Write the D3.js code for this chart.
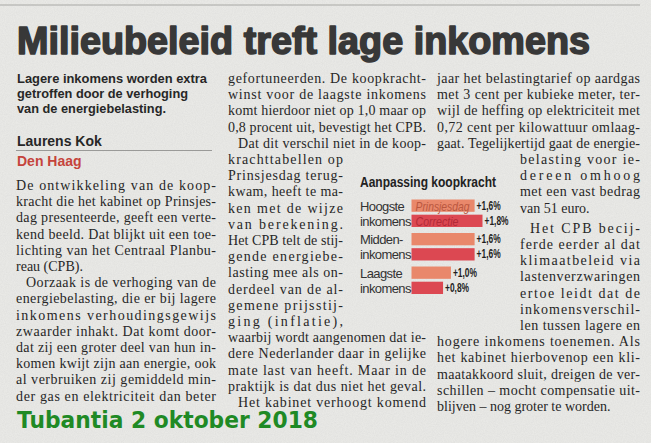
<!DOCTYPE html>
<html>
<head>
<meta charset="utf-8">
<script src="https://cdn.jsdelivr.net/npm/d3@7"></script>
<style>
  html, body { margin: 0; padding: 0; background: #e8e8e5; overflow: hidden; }
</style>
</head>
<body>
<script>
// chart data
var categories = ["Hoogste", "Midden", "Laagste"];
var categoryLines = [["Hoogste", "inkomens"], ["Midden-", "inkomens"], ["Laagste", "inkomens"]];
var seriesNames = ["Prinsjesdag", "Correctie"];
var prinsjesdag = [1.6, 1.6, 1.0];
var correctie = [1.8, 1.6, 0.8];

// article text
var headline = "Milieubeleid treft lage inkomens";
var intro = ["Lagere inkomens worden extra", "getroffen door de verhoging", "van de energiebelasting."];
var introWidths = [190, 171, 149];
var col1 = [
  ["De ontwikkeling van de koop-", 1], ["kracht die het kabinet op Prinsjes-", 1],
  ["dag presenteerde, geeft een verte-", 1], ["kend beeld. Dat blijkt uit een toe-", 1],
  ["lichting van het Centraal Planbu-", 1], ["reau (CPB).", 0],
  ["Oorzaak is de verhoging van de", 1, "i"], ["energiebelasting, die er bij lagere", 1],
  ["inkomens verhoudingsgewijs", 1], ["zwaarder inhakt. Dat komt door-", 1],
  ["dat zij een groter deel van hun in-", 1], ["komen kwijt zijn aan energie, ook", 1],
  ["al verbruiken zij gemiddeld min-", 1], ["der gas en elektriciteit dan beter", 1]
];
var col2 = [
  ["gefortuneerden. De koopkracht-", 1], ["winst voor de laagste inkomens", 1],
  ["komt hierdoor niet op 1,0 maar op", 1], ["0,8 procent uit, bevestigt het CPB.", 1],
  ["Dat dit verschil niet in de koop-", 1, "i"], ["krachttabellen op", 1, "n"],
  ["Prinsjesdag terug-", 1, "n"], ["kwam, heeft te ma-", 1, "n"],
  ["ken met de wijze", 1, "n"], ["van berekening.", 1, "n"],
  ["Het CPB telt de stij-", 1, "n"], ["gende energiebe-", 1, "n"],
  ["lasting mee als on-", 1, "n"], ["derdeel van de al-", 1, "n"],
  ["gemene prijsstij-", 1, "n"], ["ging (inflatie),", 1, "n"],
  ["waarbij wordt aangenomen dat ie-", 1], ["dere Nederlander daar in gelijke", 1],
  ["mate last van heeft. Maar in de", 1], ["praktijk is dat dus niet het geval.", 1],
  ["Het kabinet verhoogt komend", 1, "i"]
];
var col3 = [
  ["jaar het belastingtarief op aardgas", 1], ["met 3 cent per kubieke meter, ter-", 1],
  ["wijl de heffing op elektriciteit met", 1], ["0,72 cent per kilowattuur omlaag-", 1],
  ["gaat. Tegelijkertijd gaat de energie-", 1], ["belasting voor ie-", 1, "n"],
  ["dereen omhoog", 1, "n"], ["met een vast bedrag", 1, "n"],
  ["van 51 euro.", 0, "n"], ["Het CPB becij-", 1, "ni"],
  ["ferde eerder al dat", 1, "n"], ["klimaatbeleid via", 1, "n"],
  ["lastenverzwaringen", 1, "n"], ["ertoe leidt dat de", 1, "n"],
  ["inkomensverschil-", 1, "n"], ["len tussen lagere en", 1, "n"],
  ["hogere inkomens toenemen. Als", 1], ["het kabinet hierbovenop een kli-", 1],
  ["maatakkoord sluit, dreigen de ver-", 1], ["schillen – mocht compensatie uit-", 1],
  ["blijven – nog groter te worden.", 0]
];

var W = 651, H = 443;
var svg = d3.select("body").append("svg")
  .attr("width", W)
  .attr("height", H);

// paper grain
var defs = svg.append("defs");
var f = defs.append("filter").attr("id", "grain").attr("x", 0).attr("y", 0).attr("width", "100%").attr("height", "100%");
f.append("feTurbulence").attr("type", "fractalNoise").attr("baseFrequency", 0.9).attr("numOctaves", 2).attr("seed", 4);
f.append("feColorMatrix").attr("type", "matrix")
  .attr("values", "0 0 0 0 0.5  0 0 0 0 0.5  0 0 0 0 0.5  0 0 0 -1.2 0.9");
svg.append("rect").attr("width", W).attr("height", H).attr("fill", "#e9e9e6");
svg.append("rect").attr("width", W).attr("height", H).attr("filter", "url(#grain)").attr("opacity", 0.22);

// top rule
svg.append("line").attr("x1", 0).attr("x2", 640).attr("y1", 5).attr("y2", 5)
  .attr("stroke", "#a8a8a5").attr("stroke-width", 1);

var ink = "#272727";
var sans = "Liberation Sans, Arial, sans-serif";

svg.append("text")
  .attr("x", 17).attr("y", 54)
  .attr("font-family", sans)
  .attr("font-weight", "bold")
  .attr("font-size", "38px")
  .attr("textLength", 573)
  .attr("lengthAdjust", "spacingAndGlyphs")
  .attr("fill", "#383838")
  .attr("stroke", "#383838").attr("stroke-width", 1.6)
  .attr("stroke-linejoin", "round")
  .text(headline);

svg.selectAll("text.intro")
  .data(intro)
  .enter().append("text")
  .attr("class", "intro")
  .attr("x", 17)
  .attr("y", function(d, i) { return 83 + i * 15; })
  .attr("font-family", sans)
  .attr("font-weight", "bold")
  .attr("font-size", "13.5px")
  .attr("textLength", function(d, i) { return introWidths[i]; })
  .attr("lengthAdjust", "spacingAndGlyphs")
  .attr("fill", ink)
  .text(function(d) { return d; });

svg.append("text").attr("x", 17).attr("y", 146)
  .attr("font-family", sans).attr("font-weight", "bold")
  .attr("font-size", "14px").attr("fill", ink).text("Laurens Kok");
svg.append("line").attr("x1", 16).attr("x2", 212).attr("y1", 150.5).attr("y2", 150.5)
  .attr("stroke", "#9a9a98").attr("stroke-width", 1);
svg.append("text").attr("x", 17).attr("y", 166)
  .attr("font-family", sans).attr("font-weight", "bold")
  .attr("font-size", "14px").attr("fill", "#c5443c").text("Den Haag");

// body columns
var lh = 16.2;
function column(lines, x, w, y, nx, nw, gapAfter) {
  var yy = y;
  lines.forEach(function(l, i) {
    var narrow = l[2] && l[2].indexOf("n") >= 0;
    var indent = l[2] && l[2].indexOf("i") >= 0 ? 10 : 0;
    var lx = narrow ? nx : x;
    var lw = narrow ? nw : w;
    var t = svg.append("text")
      .attr("x", lx + indent)
      .attr("y", yy)
      .attr("font-family", "Liberation Serif, Times New Roman, serif")
      .attr("font-size", "14px")
      .attr("fill", ink)
      .text(l[0]);
    if (l[1]) t.attr("textLength", lw - indent).attr("lengthAdjust", "spacing");
    yy += lh + (gapAfter === i ? 4 : 0);
  });
}
column(col1, 16, 200, 190, 16, 200, -1);
column(col2, 228, 198, 83, 228, 115, -1);
column(col3, 437, 203, 83, 520, 120, 8);

// chart
var cx0 = 411.5;
var x = d3.scaleLinear().domain([0, 1.8]).range([cx0, cx0 + 71]);
var y0 = d3.scaleBand().domain(categories).range([199.5, 294]).paddingInner(0.18);
var y1 = d3.scaleBand().domain(seriesNames).range([0, y0.bandwidth()]).paddingInner(0.19);
var colors = d3.scaleOrdinal().domain(seriesNames).range(["#e9886b", "#dc4852"]);
var darker = d3.scaleOrdinal().domain(seriesNames).range(["#b9573f", "#b22a36"]);

var rows = [];
categories.forEach(function(c, i) {
  rows.push({cat: c, s: seriesNames[0], v: prinsjesdag[i], first: i === 0});
  rows.push({cat: c, s: seriesNames[1], v: correctie[i], first: i === 0});
});

var chart = svg.append("g");
chart.append("text")
  .attr("x", 360).attr("y", 187)
  .attr("font-family", sans)
  .attr("font-weight", "bold")
  .attr("font-size", "14.5px")
  .attr("textLength", 136)
  .attr("lengthAdjust", "spacingAndGlyphs")
  .attr("fill", "#222")
  .text("Aanpassing koopkracht");

chart.selectAll("rect.bar")
  .data(rows)
  .enter().append("rect")
  .attr("class", "bar")
  .attr("x", x(0))
  .attr("y", function(d) { return y0(d.cat) + y1(d.s); })
  .attr("width", function(d) { return x(d.v) - x(0); })
  .attr("height", y1.bandwidth())
  .attr("fill", function(d) { return colors(d.s); });

var fmt = function(v) { return "+" + d3.format(".1f")(v).replace(".", ",") + "%"; };
chart.selectAll("text.val")
  .data(rows)
  .enter().append("text")
  .attr("class", "val")
  .attr("x", function(d) { return x(d.v) + 2; })
  .attr("y", function(d) { return y0(d.cat) + y1(d.s) + y1.bandwidth() / 2 + 4; })
  .attr("font-family", sans)
  .attr("font-weight", "bold")
  .attr("font-size", "12px")
  .attr("textLength", 24)
  .attr("lengthAdjust", "spacingAndGlyphs")
  .attr("fill", "#1e1e1e")
  .text(function(d) { return fmt(d.v); });

chart.selectAll("text.sname")
  .data(rows.filter(function(d) { return d.first; }))
  .enter().append("text")
  .attr("class", "sname")
  .attr("x", x(0) + 4)
  .attr("y", function(d) { return y0(d.cat) + y1(d.s) + y1.bandwidth() / 2 + 5; })
  .attr("font-family", sans)
  .attr("font-style", "italic")
  .attr("font-size", "13px")
  .attr("textLength", function(d) { return d.s === "Prinsjesdag" ? 54 : 43; })
  .attr("lengthAdjust", "spacingAndGlyphs")
  .attr("fill", function(d) { return darker(d.s); })
  .text(function(d) { return d.s; });

categories.forEach(function(c, i) {
  categoryLines[i].forEach(function(line, j) {
    chart.append("text")
      .attr("x", 360)
      .attr("y", y0(c) + y1(seriesNames[j]) + y1.bandwidth() / 2 + 5)
      .attr("font-family", sans)
      .attr("font-size", "13px")
      .attr("letter-spacing", "-0.6px")
      .attr("fill", "#333")
      .text(line);
  });
});

// source line
svg.append("text")
  .attr("x", 17).attr("y", 428)
  .attr("font-family", "DejaVu Sans, sans-serif")
  .attr("font-weight", "bold")
  .attr("font-size", "23px")
  .attr("textLength", 301)
  .attr("lengthAdjust", "spacingAndGlyphs")
  .attr("fill", "#1f8a25")
  .text("Tubantia 2 oktober 2018");
</script>
</body>
</html>
